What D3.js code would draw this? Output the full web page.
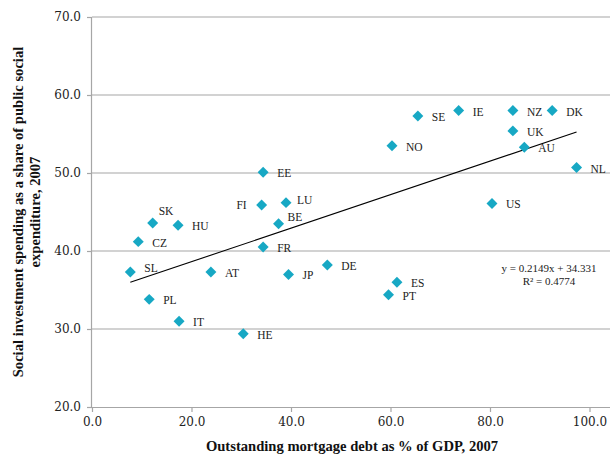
<!DOCTYPE html>
<html>
<head>
<meta charset="utf-8">
<script src="https://cdn.jsdelivr.net/npm/d3@7"></script>
<style>
  html, body { margin: 0; padding: 0; background: #fff; }
  svg { display: block; }
</style>
</head>
<body>
<svg id="chart" width="612" height="457"></svg>
<script>
// ---- Data ----
const countries = ["EE","FI","LU","BE","FR","SK","HU","CZ","SL","AT","JP","DE","PL","IT","HE",
                   "ES","PT","NO","SE","IE","NZ","DK","UK","AU","NL","US"];
const mortgageDebt = [34.4,34.1,39.0,37.5,34.4,12.2,17.3,9.3,7.7,23.9,39.5,47.3,11.5,17.5,30.4,
                      61.3,59.6,60.3,65.5,73.7,84.6,92.5,84.6,86.9,97.4,80.4];
const socialInvestment = [50.1,45.9,46.2,43.5,40.5,43.6,43.3,41.2,37.3,37.3,37.0,38.2,33.8,31.0,29.4,
                          36.0,34.4,53.5,57.3,58.0,58.0,58.0,55.4,53.3,50.7,46.1];
const xTicks = [0,20,40,60,80,100];
const yTicks = [20,30,40,50,60,70];
const trendSlope = 0.2149;
const trendIntercept = 34.331;
const trendLabel = ["y = 0.2149x + 34.331", "R\u00b2 = 0.4774"];
const xTitle = "Outstanding mortgage debt as % of GDP, 2007";
const yTitle = ["Social investment spending as a share of public social", "expenditure, 2007"];

// ---- Layout ----
const svg = d3.select("#chart");
const pLeft = 92, pTop = 17, pBottom = 407, pRight = 610;
const x = d3.scaleLinear().domain([0, 100]).range([pLeft, 589.5]);
const y = d3.scaleLinear().domain([20, 70]).range([pBottom, pTop]);
const gridColor = "#a6a6a6";
const markColor = "#17a8c4";

// gridlines
svg.append("g").selectAll("line").data(yTicks.filter(d => d > 20)).join("line")
  .attr("x1", pLeft).attr("x2", pRight)
  .attr("y1", d => y(d)).attr("y2", d => y(d))
  .attr("stroke", gridColor).attr("stroke-width", 1.2);

// y axis
const yAxis = svg.append("g").attr("transform", `translate(${pLeft},0)`)
  .call(d3.axisLeft(y).tickValues(yTicks).tickFormat(d3.format(".1f")).tickSize(5).tickPadding(6));
// x axis
const xAxis = svg.append("g").attr("transform", `translate(0,${pBottom})`)
  .call(d3.axisBottom(x).tickValues(xTicks).tickFormat(d3.format(".1f")).tickSize(5).tickPadding(5));
[yAxis, xAxis].forEach(g => {
  g.select(".domain").attr("stroke", gridColor).attr("stroke-width", 1.2);
  g.selectAll(".tick line").attr("stroke", gridColor).attr("stroke-width", 1.2);
  g.selectAll(".tick text").attr("font-family", "DejaVu Serif").attr("font-size", 12).attr("fill", "#222");
});
xAxis.select(".domain").attr("d", `M${pLeft},0.5H${pRight}`);
yAxis.select(".domain").attr("d", `M-0.5,${pTop}V${pBottom}`);

// trendline
const xMin = d3.min(mortgageDebt), xMax = d3.max(mortgageDebt);
svg.append("line")
  .attr("x1", x(xMin)).attr("y1", y(trendSlope * xMin + trendIntercept))
  .attr("x2", x(xMax)).attr("y2", y(trendSlope * xMax + trendIntercept))
  .attr("stroke", "#000").attr("stroke-width", 1.1);

// points
const pts = countries.map((c, i) => ({ c, x: mortgageDebt[i], y: socialInvestment[i] }));
const diamond = d3.symbol().type(d3.symbolSquare).size(60);
svg.append("g").selectAll("path").data(pts).join("path")
  .attr("d", diamond)
  .attr("transform", d => `translate(${x(d.x)},${y(d.y)}) rotate(45)`)
  .attr("fill", markColor);

// labels (layout offsets)
const labelOffset = { SK: [6, -12, "start"], FI: [-15, 0, "end"], SL: [14, -4, "start"],
                      BE: [9, -7, "start"], LU: [11, -3, "start"] };
svg.append("g").selectAll("text").data(pts).join("text")
  .attr("x", d => x(d.x) + (labelOffset[d.c] ? labelOffset[d.c][0] : 14))
  .attr("y", d => y(d.y) + (labelOffset[d.c] ? labelOffset[d.c][1] : 1))
  .attr("dy", "0.35em")
  .attr("text-anchor", d => labelOffset[d.c] ? labelOffset[d.c][2] : "start")
  .attr("font-family", "Liberation Serif").attr("font-size", 11.5).attr("fill", "#222")
  .text(d => d.c);

// trend equation
svg.append("g").selectAll("text").data(trendLabel).join("text")
  .attr("x", 549).attr("y", (d, i) => 272 + i * 13)
  .attr("text-anchor", "middle")
  .attr("font-family", "Liberation Serif").attr("font-size", 11).attr("fill", "#222")
  .text(d => d);

// axis titles
svg.append("text").attr("x", (pLeft + pRight) / 2 + 1).attr("y", 451)
  .attr("text-anchor", "middle")
  .attr("font-family", "Liberation Serif").attr("font-weight", "bold").attr("font-size", 14.6)
  .attr("fill", "#111").text(xTitle);
svg.append("g").attr("transform", `translate(0,${(pTop + pBottom) / 2}) rotate(-90)`)
  .selectAll("text").data(yTitle).join("text")
  .attr("x", 0).attr("y", (d, i) => 23 + i * 17)
  .attr("text-anchor", "middle")
  .attr("font-family", "Liberation Serif").attr("font-weight", "bold").attr("font-size", 14.6)
  .attr("fill", "#111").text(d => d);
</script>
</body>
</html>
